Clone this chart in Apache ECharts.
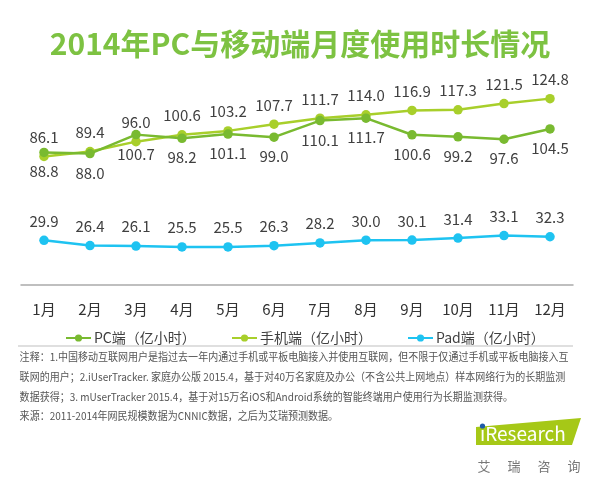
<!DOCTYPE html>
<html><head><meta charset="utf-8">
<script src="https://cdn.jsdelivr.net/npm/echarts@6/dist/echarts.min.js"></script>
<style>html,body{margin:0;padding:0;background:#fff}#c{width:600px;height:497px}</style>
</head><body><div id="c"></div>
<script>
var months = ['1月','2月','3月','4月','5月','6月','7月','8月','9月','10月','11月','12月'];
var pcValues = [88.8, 88.0, 100.7, 98.2, 101.1, 99.0, 110.1, 111.7, 100.6, 99.2, 97.6, 104.5];
var mobileValues = [86.1, 89.4, 96.0, 100.6, 103.2, 107.7, 111.7, 114.0, 116.9, 117.3, 121.5, 124.8];
var padValues = [29.9, 26.4, 26.1, 25.5, 25.5, 26.3, 28.2, 30.0, 30.1, 31.4, 33.1, 32.3];
var seriesNames = ['PC端（亿小时）', '手机端（亿小时）', 'Pad端（亿小时）'];
var noteLines = [
  '注释：1.中国移动互联网用户是指过去一年内通过手机或平板电脑接入并使用互联网，但不限于仅通过手机或平板电脑接入互',
  '联网的用户；2.iUserTracker. 家庭办公版 2015.4，基于对40万名家庭及办公（不含公共上网地点）样本网络行为的长期监测',
  '数据获得；3. mUserTracker 2015.4，基于对15万名iOS和Android系统的智能终端用户使用行为长期监测获得。',
  '来源：2011-2014年网民规模数据为CNNIC数据，之后为艾瑞预测数据。'
];
var logoChars = ['艾','瑞','咨','询'];

var FONT = '"Noto Sans CJK SC","Noto Sans",sans-serif';
var chart = echarts.init(document.getElementById('c'));
var labelStyle = {show:true, fontSize:15, color:'#404040', fontFamily:FONT, distance:7,
  formatter:function(p){return p.value.toFixed(1);}};
function mkSeries(name, data, color, pos){
  return {name:name, type:'line', data:data, symbol:'circle', symbolSize:9.5,
    lineStyle:{width:2.5,color:color}, itemStyle:{color:color},
    label:Object.assign({position:pos}, labelStyle), z: pos==='bottom'?3:2};
}
var graphics = [];
noteLines.forEach(function(t,i){
  graphics.push({type:'text', x:18, y:357+i*19.7, scaleX:0.91, originX:18, originY:357+i*19.7,
    style:{text:t, fill:'#555', font:'11px '+FONT, textVerticalAlign:'middle'}});
});
graphics.push({type:'line', shape:{x1:18,y1:346,x2:573,y2:346}, style:{stroke:'#c0c0c0',lineWidth:1.2}});
graphics.push({type:'polygon', shape:{points:[[476,427],[581,418],[572,445],[476,445]]}, style:{fill:'#a6c817'}});
graphics.push({type:'text', x:480, y:443, style:{text:'iResearch', fill:'#fff', font:'19px '+FONT, textVerticalAlign:'bottom'}});
graphics.push({type:'circle', shape:{cx:482.5, cy:426, r:2.6}, style:{fill:'#1e5aa8'}});
logoChars.forEach(function(ch,i){
  graphics.push({type:'text', x:484+i*30, y:466, style:{text:ch, fill:'#777', font:'13px '+FONT, textAlign:'center', textVerticalAlign:'middle'}});
});
var legendLefts = [60, 226, 402];
var legends = seriesNames.map(function(n,i){
  return {data:[n], top:326, left:legendLefts[i], itemWidth:25, itemHeight:9, itemGap:0,
    textStyle:{fontSize:14, color:'#404040', fontFamily:FONT, padding:[0,0,0,-2]}};
});

chart.setOption({
  animation:false,
  title:{text:'2014年PC与移动端月度使用时长情况', left:'center', top:24,
    textStyle:{fontSize:30, fontWeight:'bold', color:'#7dc242', fontFamily:FONT}},
  legend:legends,
  grid:{left:21, right:27, top:61, bottom:212},
  xAxis:{type:'category', data:months, boundaryGap:true,
    axisLine:{lineStyle:{color:'#aaa', width:1.5}}, axisTick:{show:false},
    axisLabel:{fontSize:15, color:'#333', margin:17, fontFamily:FONT}},
  yAxis:{type:'value', min:0, max:150, show:false, splitLine:{show:false}},
  color:['#79ba30','#a8cf2b','#1ec3f1'],
  series:[
    mkSeries(seriesNames[0], pcValues, '#79ba30', 'bottom'),
    mkSeries(seriesNames[1], mobileValues, '#a8cf2b', 'top'),
    mkSeries(seriesNames[2], padValues, '#1ec3f1', 'top')
  ],
  graphic:graphics
});
</script></body></html>
